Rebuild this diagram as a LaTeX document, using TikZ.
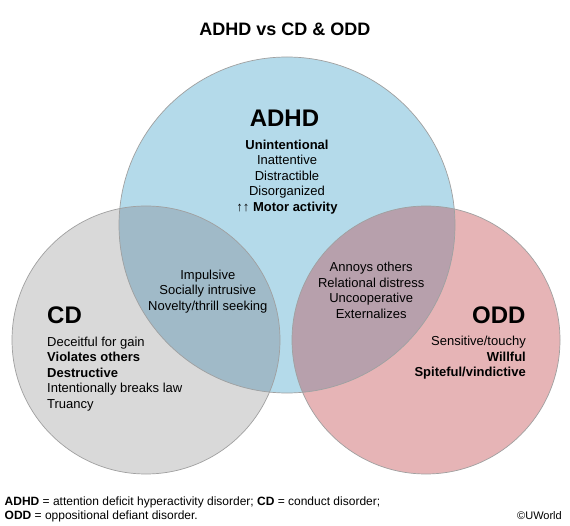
\documentclass[tikz,border=0pt]{standalone}
\usepackage{fontspec}
\setmainfont{Liberation Sans}
\usepackage{xcolor}
\usepackage{tikz}
\definecolor{adhdblue}{HTML}{B4DAEA}
\definecolor{cdgray}{HTML}{D9D9D9}
\definecolor{oddpink}{HTML}{E6B4B6}
\definecolor{cdmix}{HTML}{A0BAC8}
\definecolor{oddmix}{HTML}{B7A0AC}
\definecolor{rim}{HTML}{A0A0A0}

\begin{document}
\begin{tikzpicture}[x=1pt,y=-1pt,rimline/.style={draw=rim,line width=0.7pt},list/.style={font=\fontsize{13}{15.5}\selectfont,inner sep=0pt},big/.style={font=\fontsize{24}{28}\selectfont\bfseries,inner sep=0pt},foot/.style={font=\fontsize{12}{14}\selectfont,inner sep=0pt,anchor=base west}]
\fill[white] (0,0) rectangle (570,526);
\useasboundingbox (0,0) rectangle (570,526);
\coordinate (adhdc) at (287,225);
\coordinate (cdc) at (146,340);
\coordinate (oddc) at (426,340);
\fill[cdgray] (cdc) circle (134pt);
\fill[oddpink] (oddc) circle (134pt);
\fill[adhdblue] (adhdc) circle (168pt);
\begin{scope}
\clip (adhdc) circle (168pt);
\fill[cdmix] (cdc) circle (134pt);
\fill[oddmix] (oddc) circle (134pt);
\end{scope}
\draw[rimline] (cdc) circle (134pt);
\draw[rimline] (oddc) circle (134pt);
\draw[rimline] (adhdc) circle (168pt);
\node[font=\fontsize{18}{21}\selectfont\bfseries,inner sep=0pt] (title) at (285,29.5) {ADHD vs CD \& ODD};
\node[big] (adhd) at (284.5,118.5) {ADHD};
\node[list,align=center] (adhdlist) at (287,177) {\textbf{Unintentional}\\Inattentive\\Distractible\\Disorganized\\↑↑ \textbf{Motor activity}};
\node[big,anchor=west] (cd) at (47,315.7) {CD};
\node[list,align=left,anchor=west] (cdlist) at (47,374) {Deceitful for gain\\\textbf{Violates others}\\\textbf{Destructive}\\Intentionally breaks law\\Truancy};
\node[list,align=center] (cdshared) at (207.8,291.3) {Impulsive\\Socially intrusive\\Novelty/thrill seeking};
\node[list,align=center] (oddshared) at (371.2,290.3) {Annoys others\\Relational distress\\Uncooperative\\Externalizes};
\node[big,anchor=east] (odd) at (525.7,315) {ODD};
\node[list,align=right,anchor=east] (oddlist) at (526,358) {Sensitive/touchy\\\textbf{Willful}\\\textbf{Spiteful/vindictive}};
\node[foot] (key1) at (4.5,505.3) {\textbf{ADHD} = attention deficit hyperactivity disorder; \textbf{CD} = conduct disorder;};
\node[foot] (key2) at (4.5,519) {\textbf{ODD} = oppositional defiant disorder.};
\node[font=\fontsize{11}{13}\selectfont,inner sep=0pt,anchor=base east] (brand) at (562,519) {©UWorld};
\end{tikzpicture}
\end{document}
